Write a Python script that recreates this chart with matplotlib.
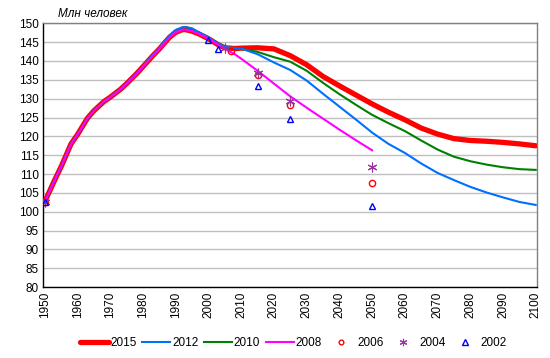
import matplotlib
matplotlib.use("Agg")
import matplotlib.pyplot as plt

plt.rcParams["font.family"] = ["Liberation Sans", "DejaVu Sans"]

# --- data (млн человек) ---
YEARS_2015 = [1950, 1953, 1955, 1958, 1960, 1963, 1965, 1968, 1970, 1973, 1975, 1978,
              1980, 1983, 1985, 1988, 1990, 1992, 1993, 1995, 1997, 2000, 2003, 2005,
              2008, 2010, 2015, 2020, 2025, 2030, 2035, 2040, 2045, 2050, 2055, 2060,
              2065, 2070, 2075, 2080, 2085, 2090, 2095, 2100]
POP_2015 = [102.7, 108.4, 112.0, 118.0, 120.5, 124.8, 126.8, 129.2, 130.4, 132.4, 134.0, 136.6,
            138.5, 141.4, 143.2, 146.2, 147.6, 148.3, 148.3, 147.9, 147.2, 145.9, 144.3, 143.5,
            143.3, 143.4, 143.5, 143.2, 141.4, 139.0, 135.9, 133.4, 131.0, 128.6, 126.4, 124.4,
            122.2, 120.6, 119.4, 118.9, 118.7, 118.4, 118.0, 117.5]

YEARS_2012 = [1950, 1953, 1955, 1958, 1960, 1963, 1965, 1968, 1970, 1973, 1975, 1978,
              1980, 1983, 1985, 1988, 1990, 1992, 1993, 1995, 1997, 2000, 2003, 2005,
              2008, 2010, 2015, 2020, 2025, 2030, 2035, 2040, 2045, 2050, 2055, 2060,
              2065, 2070, 2075, 2080, 2085, 2090, 2095, 2100]
POP_2012 = [102.7, 108.4, 112.0, 118.0, 120.5, 124.8, 126.8, 129.2, 130.4, 132.4, 134.0, 136.6,
            138.6, 141.6, 143.5, 146.7, 148.2, 148.9, 149.0, 148.6, 147.6, 146.2, 144.6, 143.7,
            143.4, 143.3, 141.8, 139.6, 137.6, 134.8, 131.3, 127.9, 124.5, 121.0, 118.0, 115.6,
            112.8, 110.3, 108.4, 106.6, 105.1, 103.8, 102.6, 101.8]

YEARS_2010 = [1950, 1953, 1955, 1958, 1960, 1963, 1965, 1968, 1970, 1973, 1975, 1978,
              1980, 1983, 1985, 1988, 1990, 1992, 1993, 1995, 1997, 2000, 2003, 2005,
              2008, 2010, 2015, 2020, 2025, 2030, 2035, 2040, 2045, 2050, 2055, 2060,
              2065, 2070, 2075, 2080, 2085, 2090, 2095, 2100]
POP_2010 = [102.7, 108.4, 112.0, 118.0, 120.5, 124.8, 126.8, 129.2, 130.4, 132.4, 134.0, 136.6,
            138.6, 141.6, 143.5, 146.7, 148.2, 148.9, 149.0, 148.6, 147.6, 146.2, 144.6, 143.7,
            143.4, 143.2, 142.4, 141.0, 139.8, 137.4, 134.2, 131.2, 128.4, 125.7, 123.5, 121.4,
            118.9, 116.5, 114.6, 113.4, 112.5, 111.8, 111.3, 111.1]

YEARS_2008 = [1950, 1953, 1955, 1958, 1960, 1963, 1965, 1968, 1970, 1973, 1975, 1978,
              1980, 1983, 1985, 1988, 1990, 1992, 1993, 1995, 1997, 2000, 2003, 2005,
              2008, 2010, 2015, 2020, 2025, 2030, 2035, 2040, 2045, 2050]
POP_2008 = [102.7, 108.4, 112.0, 118.0, 120.5, 124.8, 126.8, 129.2, 130.4, 132.4, 134.0, 136.6,
            138.5, 141.4, 143.2, 146.2, 147.6, 148.3, 148.3, 147.9, 147.2, 145.9, 144.3, 143.3,
            141.8, 140.6, 137.4, 134.0, 130.6, 127.6, 124.7, 121.8, 119.0, 116.3]

YEARS_2006 = [1950, 2007, 2015, 2025, 2050]
POP_2006 = [102.7, 142.7, 136.3, 128.3, 107.7]

YEARS_2004 = [1950, 2005, 2015, 2025, 2050]
POP_2004 = [102.7, 143.4, 136.7, 129.4, 112.0]

YEARS_2002 = [1950, 2000, 2003, 2015, 2025, 2050]
POP_2002 = [102.7, 145.6, 143.2, 133.4, 124.5, 101.5]

YTICKS = list(range(80, 151, 5))
XTICKS = list(range(1950, 2101, 10))

fig = plt.figure(figsize=(5.5, 3.58), dpi=100)
ax = fig.add_axes([0.078, 0.198, 0.899, 0.737])

ax.plot(YEARS_2015, POP_2015, color="#FF0000", lw=3.8, label="2015", zorder=3,
        solid_capstyle="round")
ax.plot(YEARS_2010, POP_2010, color="#008000", lw=1.5, label="2010", zorder=4)
ax.plot(YEARS_2012, POP_2012, color="#0070FF", lw=1.5, label="2012", zorder=5)
ax.plot(YEARS_2008, POP_2008, color="#FF00FF", lw=1.5, label="2008", zorder=6)
ax.plot(YEARS_2006, POP_2006, ls="none", marker="o", ms=4.5, mfc="none", mec="#FF0000",
        mew=1.0, label="2006", zorder=7)
ax.plot(YEARS_2004, POP_2004, ls="none", marker=(6, 2, 0), ms=7, mec="#9933A0",
        color="#9933A0", mew=0.8, label="2004", zorder=7)
ax.plot(YEARS_2002, POP_2002, ls="none", marker="^", ms=5, mfc="none", mec="#0000FF",
        mew=1.0, label="2002", zorder=7)

ax.set_xlim(1949.4, 2100.5)
ax.set_ylim(80, 150)
ax.set_yticks(YTICKS)
ax.set_xticks(XTICKS)
ax.set_xticklabels([str(x) for x in XTICKS], rotation=90)
ax.tick_params(axis="both", labelsize=8.5, length=0, pad=3)
ax.grid(axis="y", color="#BFBFBF", lw=1.0)
ax.set_axisbelow(True)
for s in ("left", "bottom"):
    ax.spines[s].set_color("black")
    ax.spines[s].set_linewidth(1.0)
for s in ("top", "right"):
    ax.spines[s].set_color("#808080")
    ax.spines[s].set_linewidth(1.0)

fig.text(0.105, 0.962, "Млн человек", style="italic", fontsize=8.5, va="center", ha="left")

handles, labels = ax.get_legend_handles_labels()
order = ["2015", "2012", "2010", "2008", "2006", "2004", "2002"]
hl = dict(zip(labels, handles))
fig.legend([hl[k] for k in order], order, loc="center", bbox_to_anchor=(0.534, 0.042),
           ncol=7, frameon=False, fontsize=8.5, handlelength=2.4, handletextpad=0.15,
           columnspacing=0.45, markerscale=0.75)

fig.savefig("out.png", dpi=100)
